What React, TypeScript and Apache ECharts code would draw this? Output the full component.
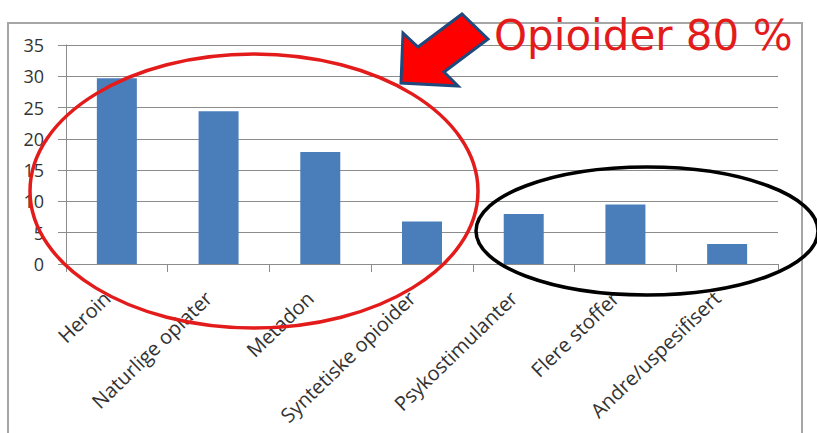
import React, { useEffect, useRef } from "react";
import * as echarts from "echarts";

const categories = [
  "Heroin",
  "Naturlige opiater",
  "Metadon",
  "Syntetiske opioider",
  "Psykostimulanter",
  "Flere stoffer",
  "Andre/uspesifisert",
];
const values = [29.7, 24.4, 17.9, 6.8, 8.0, 9.5, 3.2];
const yTicks = [0, 5, 10, 15, 20, 25, 30, 35];
const annotationText = "Opioider 80 %";

export default function App() {
  const ref = useRef<HTMLDivElement>(null);
  useEffect(() => {
    if (!ref.current) return;
    const chart = echarts.init(ref.current, null, { renderer: "svg" });
    chart.setOption({
      animation: false,
      backgroundColor: "#ffffff",
      grid: { left: 66, right: 39, top: 45, bottom: 169, containLabel: false },
      xAxis: {
        type: "category",
        data: categories,
        boundaryGap: true,
        axisLine: { show: true, lineStyle: { color: "#8c8c8c", width: 1 } },
        axisTick: { show: true, length: 8, alignWithLabel: false, lineStyle: { color: "#8c8c8c" } },
        axisLabel: {
          interval: 0,
          rotate: 44,
          margin: 21,
          padding: [0, 14, 0, 0],
          fontFamily: "Open Sans",
          fontSize: 20,
          color: "#333333",
        },
      },
      yAxis: {
        type: "value",
        min: yTicks[0],
        max: yTicks[yTicks.length - 1],
        interval: 5,
        axisLine: { show: true, lineStyle: { color: "#8c8c8c", width: 1 } },
        axisTick: { show: true, length: 8, lineStyle: { color: "#8c8c8c" } },
        splitLine: { show: true, lineStyle: { color: "#8c8c8c", width: 1 } },
        axisLabel: {
          margin: 22,
          fontFamily: "Open Sans",
          fontSize: 18,
          color: "#333333",
        },
      },
      series: [
        {
          type: "bar",
          data: values,
          barWidth: 40,
          itemStyle: { color: "#4a7ebb" },
        },
      ],
      graphic: [
        {
          type: "rect",
          shape: { x: 8, y: 23, width: 794, height: 430 },
          style: { fill: "none", stroke: "#a6a6a6", lineWidth: 2 },
          z: 10,
        },
        {
          type: "ellipse",
          shape: { cx: 254, cy: 191, rx: 224, ry: 137 },
          style: { fill: "none", stroke: "#e31b1b", lineWidth: 3.5 },
          z: 20,
        },
        {
          type: "ellipse",
          shape: { cx: 647, cy: 231, rx: 171, ry: 64 },
          style: { fill: "none", stroke: "#000000", lineWidth: 3.5 },
          z: 20,
        },
        {
          type: "polygon",
          shape: {
            points: [
              [401, 83],
              [403, 33],
              [418, 47],
              [462, 14],
              [488, 39],
              [444, 72],
              [458, 86],
            ],
          },
          style: { fill: "#ff0000", stroke: "#1f497d", lineWidth: 3, lineJoin: "miter" },
          z: 20,
        },
        {
          type: "text",
          x: 494,
          y: 14,
          style: {
            text: annotationText,
            fill: "#e31b1b",
            font: "42px 'DejaVu Sans'",
            verticalAlign: "top",
            align: "left",
          },
          z: 20,
        },
      ],
    });
    return () => chart.dispose();
  }, []);
  return (
    <div
      ref={ref}
      style={{ position: "fixed", left: 0, top: 0, width: 817, height: 433 }}
    />
  );
}
